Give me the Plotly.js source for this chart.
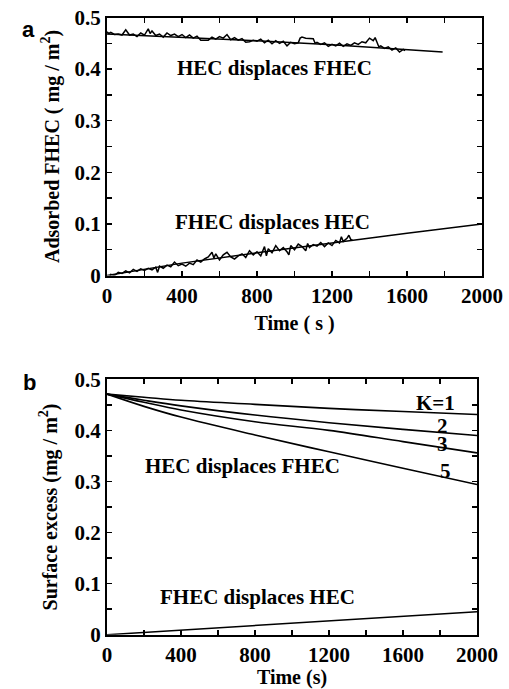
<!DOCTYPE html>
<html><head><meta charset="utf-8">
<script src="https://cdn.plot.ly/plotly-3.0.1.min.js"></script>
<style>html,body{margin:0;padding:0;background:#fff}#plot{width:509px;height:689px}</style>
</head><body><div id="plot"></div>
<script>
// Panel a: HEC displaces FHEC (experimental)
const aHecX = [0,10,20,40,60,80,100,110,120,140,160,180,200,220,230,240,260,280,300,320,340,360,380,400,420,440,460,480,500,520,540,560,580,600,620,640,660,680,700,720,740,760,780,800,820,840,860,880,900,920,940,960,980,1000,1020,1030,1040,1060,1080,1100,1110,1120,1140,1160,1180,1200,1220,1240,1260,1280,1300,1320,1340,1360,1380,1400,1420,1430,1440,1450,1460,1480,1500,1520,1540,1560,1580,1590];
const aHecY = [0.472,0.469,0.471,0.467,0.468,0.466,0.476,0.470,0.466,0.468,0.463,0.470,0.466,0.478,0.469,0.474,0.465,0.468,0.462,0.470,0.465,0.468,0.463,0.467,0.461,0.466,0.460,0.464,0.456,0.456,0.456,0.462,0.458,0.463,0.460,0.467,0.457,0.461,0.456,0.459,0.452,0.453,0.456,0.454,0.458,0.451,0.456,0.449,0.455,0.450,0.454,0.445,0.452,0.449,0.451,0.460,0.462,0.460,0.460,0.459,0.450,0.452,0.448,0.451,0.444,0.448,0.445,0.450,0.444,0.449,0.446,0.451,0.448,0.453,0.451,0.460,0.455,0.461,0.452,0.443,0.445,0.440,0.443,0.437,0.441,0.433,0.438,0.436];
// Panel a: HEC displaces FHEC (fit)
const aHecFitX = [0,400,800,1200,1600,1790];
const aHecFitY = [0.468,0.462,0.455,0.447,0.438,0.433];
// Panel a: FHEC displaces HEC (experimental)
const aFhecX = [0,10,20,40,60,80,100,120,140,160,180,200,220,240,260,270,280,300,320,340,360,380,400,420,440,460,480,500,520,540,560,570,580,600,620,640,660,680,700,720,740,760,780,800,820,840,850,860,880,900,920,940,960,970,980,1000,1020,1040,1060,1070,1080,1100,1120,1140,1160,1180,1200,1220,1240,1250,1260,1280,1290,1300,1310];
const aFhecY = [-0.004,-0.006,0.002,0.000,0.006,0.004,0.009,0.005,0.012,0.008,0.013,0.010,0.014,0.011,0.016,0.006,0.018,0.014,0.020,0.017,0.026,0.019,0.022,0.018,0.024,0.021,0.030,0.026,0.032,0.036,0.045,0.034,0.042,0.030,0.040,0.045,0.036,0.032,0.038,0.042,0.035,0.048,0.040,0.046,0.038,0.056,0.038,0.052,0.044,0.058,0.048,0.054,0.046,0.040,0.058,0.050,0.061,0.056,0.048,0.062,0.054,0.060,0.057,0.064,0.056,0.063,0.058,0.068,0.063,0.075,0.066,0.072,0.078,0.070,0.068];
// Panel a: FHEC displaces HEC (fit)
const aFhecFitX = [0,400,800,1200,1310,1600,2000];
const aFhecFitY = [0.000,0.024,0.044,0.063,0.069,0.082,0.100];

// Panel b: model curves
const bTime = [0,200,400,800,1200,1600,2000];
const bK1 = [0.471,0.465,0.459,0.451,0.443,0.437,0.431];
const bK2 = [0.471,0.459,0.448,0.430,0.415,0.402,0.390];
const bK3 = [0.471,0.455,0.440,0.417,0.400,0.378,0.356];
const bK5 = [0.471,0.447,0.426,0.391,0.358,0.326,0.294];
const bFhec = [0.000,0.0045,0.009,0.018,0.027,0.036,0.045];
const bLabels = ['K=1','2','3','5'];

const xTicks = [0,400,800,1200,1600,2000];
const yTicks = [0,0.1,0.2,0.3,0.4,0.5];
const yTickText = ['0','0.1','0.2','0.3','0.4','0.5'];

const fam = 'Liberation Serif, Times New Roman, serif';
const tickFont = {family:fam, size:21, color:'#000', weight:'bold'};
const titleFont = {family:fam, size:20, color:'#000', weight:'bold'};
const annFont = {family:fam, size:21, color:'#000', weight:'bold'};
const line = {color:'#000', width:1.5};
const mline = {color:'#000', width:1.6, shape:'spline'};

const traces = [
  {x:aHecX, y:aHecY, xaxis:'x', yaxis:'y', mode:'lines', line:line},
  {x:aHecFitX, y:aHecFitY, xaxis:'x', yaxis:'y', mode:'lines', line:line},
  {x:aFhecX, y:aFhecY, xaxis:'x', yaxis:'y', mode:'lines', line:line},
  {x:aFhecFitX, y:aFhecFitY, xaxis:'x', yaxis:'y', mode:'lines', line:line},
  {x:bTime, y:bK1, xaxis:'x2', yaxis:'y2', mode:'lines', line:mline},
  {x:bTime, y:bK2, xaxis:'x2', yaxis:'y2', mode:'lines', line:mline},
  {x:bTime, y:bK3, xaxis:'x2', yaxis:'y2', mode:'lines', line:mline},
  {x:bTime, y:bK5, xaxis:'x2', yaxis:'y2', mode:'lines', line:mline},
  {x:bTime, y:bFhec, xaxis:'x2', yaxis:'y2', mode:'lines', line:{color:'#000',width:1.6}}
];

const W = 509, H = 689;
const xMinor = {tickvals:[200,600,1000,1400,1800], ticks:'inside', ticklen:5, tickwidth:1.5, tickcolor:'#000'};
const yMinor = {tickvals:[0.05,0.15,0.25,0.35,0.45], ticks:'inside', ticklen:5, tickwidth:1.5, tickcolor:'#000'};
function ax(domain, extra) {
  return Object.assign({
    domain: domain, showgrid:false, zeroline:false, showline:true, linecolor:'#000', linewidth:2,
    mirror:'allticks', ticks:'inside', ticklen:5, tickwidth:1.5, tickcolor:'#000',
    tickfont: tickFont, fixedrange:true
  }, extra);
}
const layout = {
  width:W, height:H, margin:{l:0,r:0,t:0,b:0}, showlegend:false,
  paper_bgcolor:'#fff', plot_bgcolor:'#fff',
  xaxis: ax([107/W, 482/W], {range:[0,2000], tickvals:xTicks, ticktext:xTicks.map(String), anchor:'y',
    minor:xMinor, title:{text:'Time ( s )', font:titleFont, standoff:9}}),
  yaxis: ax([1-275.5/H, 1-17.5/H], {range:[0,0.5], tickvals:yTicks, ticktext:yTickText, anchor:'x',
    minor:yMinor, title:{text:'Adsorbed FHEC ( mg / m<sup>2</sup>)', font:titleFont, standoff:10}}),
  xaxis2: ax([107/W, 477/W], {range:[0,2000], tickvals:xTicks, ticktext:xTicks.map(String), anchor:'y2',
    minor:xMinor, title:{text:'Time (s)', font:titleFont, standoff:6}}),
  yaxis2: ax([1-634.7/H, 1-379.3/H], {range:[0,0.5], tickvals:yTicks, ticktext:yTickText, anchor:'x2',
    minor:yMinor, title:{text:'Surface excess (mg / m<sup>2</sup>)', font:titleFont, standoff:12}}),
  annotations: [
    {xref:'x', yref:'y', x:891, y:0.402, text:'HEC displaces FHEC', showarrow:false, font:annFont},
    {xref:'x', yref:'y', x:885, y:0.104, text:'FHEC displaces HEC', showarrow:false, font:annFont},
    {xref:'x2', yref:'y2', x:1773, y:0.4536, text:bLabels[0], showarrow:false, font:annFont},
    {xref:'x2', yref:'y2', x:1816, y:0.4095, text:bLabels[1], showarrow:false, font:annFont, height:16},
    {xref:'x2', yref:'y2', x:1816, y:0.374, text:bLabels[2], showarrow:false, font:annFont, height:16},
    {xref:'x2', yref:'y2', x:1827, y:0.320, text:bLabels[3], showarrow:false, font:annFont},
    {xref:'x2', yref:'y2', x:735, y:0.330, text:'HEC displaces FHEC', showarrow:false, font:annFont},
    {xref:'x2', yref:'y2', x:816, y:0.0738, text:'FHEC displaces HEC', showarrow:false, font:annFont},
    {xref:'paper', yref:'paper', x:20/W, y:1-15/H, text:'a', showarrow:false, font:{family:'Liberation Sans, Arial, sans-serif', size:22, color:'#000', weight:'bold'}},
    {xref:'paper', yref:'paper', x:21/W, y:1-382/H, text:'b', showarrow:false, font:{family:'Liberation Sans, Arial, sans-serif', size:22, color:'#000', weight:'bold'}}
  ]
};
Plotly.newPlot('plot', traces, layout, {staticPlot:true, displayModeBar:false});
</script></body></html>
